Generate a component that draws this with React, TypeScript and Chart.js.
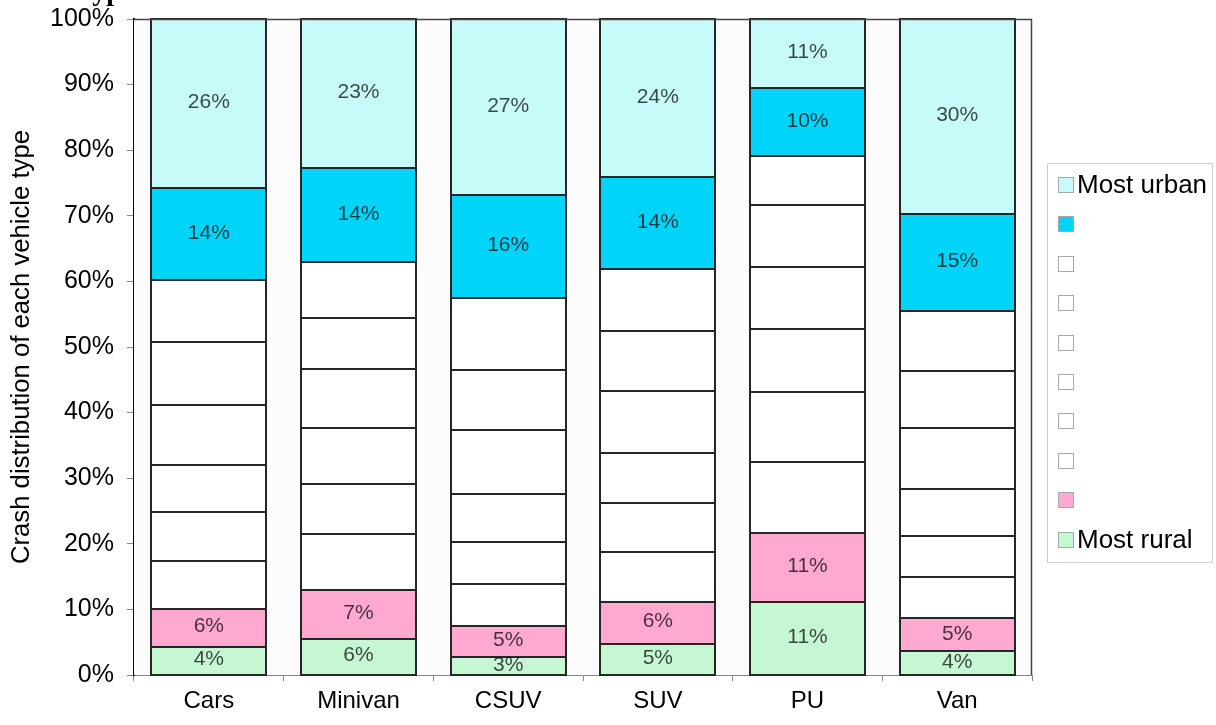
import React, { useEffect, useRef } from 'react';
import { Chart, registerables } from 'chart.js';

Chart.register(...registerables);

const categories = ['Cars', 'Minivan', 'CSUV', 'SUV', 'PU', 'Van'];

// bottom (most rural) to top (most urban), percent of crashes
const mostRural = [4.34, 5.52, 2.74, 4.75, 11.1, 3.59];
const rural2 = [5.78, 7.49, 4.75, 6.45, 10.52, 5.03];
const mid1 = [7.33, 8.41, 6.35, 7.54, 10.91, 6.27];
const mid2 = [7.33, 7.75, 6.45, 7.43, 10.58, 6.34];
const mid3 = [7.28, 8.41, 7.33, 7.64, 9.67, 7.18];
const mid4 = [9.14, 9.14, 9.76, 9.5, 9.47, 9.21];
const mid5 = [9.6, 7.64, 9.08, 9.14, 9.47, 8.76];
const mid6 = [9.4, 8.57, 10.95, 9.5, 7.38, 9.14];
const urban2 = [13.99, 14.41, 15.8, 13.94, 10.38, 14.76];
const mostUrban = [25.81, 22.66, 26.79, 24.11, 10.52, 29.72];

const seriesNames = ['Most rural', '', '', '', '', '', '', '', '', 'Most urban'];
const seriesColors = ['#C6F7D3', '#FFA8D0', '#FFFFFF', '#FFFFFF', '#FFFFFF', '#FFFFFF', '#FFFFFF', '#FFFFFF', '#00D4F8', '#C6FBF9'];
const labelledSeries = [0, 1, 8, 9];

const yTicks = [0, 10, 20, 30, 40, 50, 60, 70, 80, 90, 100];
const yTitle = 'Crash distribution of each vehicle type';
const topTitleFragment = 'type';

const SANS = '"Liberation Sans", Arial, Helvetica, sans-serif';

const allSeries = [mostRural, rural2, mid1, mid2, mid3, mid4, mid5, mid6, urban2, mostUrban];

const areaPlugin = {
  id: 'areaPlugin',
  beforeDatasetsDraw(chart: any) {
    const { ctx, chartArea } = chart;
    ctx.save();
    ctx.fillStyle = '#FCFCFC';
    ctx.fillRect(chartArea.left, chartArea.top, chartArea.right - chartArea.left, chartArea.bottom - chartArea.top);
    ctx.restore();
  },
  afterDatasetsDraw(chart: any) {
    const { ctx, chartArea } = chart;
    ctx.save();
    // crisp outlines of every bar segment
    ctx.strokeStyle = '#262626';
    ctx.lineWidth = 2;
    chart.data.datasets.forEach((_: any, di: number) => {
      const meta = chart.getDatasetMeta(di);
      meta.data.forEach((el: any) => {
        const half = el.width / 2;
        const x0 = Math.round(el.x - half);
        const x1 = Math.round(el.x + half);
        const y0 = Math.round(Math.min(el.y, el.base));
        const y1 = Math.round(Math.max(el.y, el.base));
        ctx.strokeRect(x0, y0, x1 - x0, y1 - y0);
      });
    });
    // plot-area frame (top and right)
    ctx.strokeStyle = '#444';
    ctx.lineWidth = 1.5;
    ctx.beginPath();
    ctx.moveTo(chartArea.left, chartArea.top + 0.5);
    ctx.lineTo(chartArea.right - 0.5, chartArea.top + 0.5);
    ctx.lineTo(chartArea.right - 0.5, chartArea.bottom);
    ctx.stroke();
    ctx.restore();
  },
};

const labelPlugin = {
  id: 'labelPlugin',
  afterDatasetsDraw(chart: any) {
    const { ctx } = chart;
    ctx.save();
    ctx.font = `21px ${SANS}`;
    ctx.textAlign = 'center';
    ctx.textBaseline = 'middle';
    ctx.fillStyle = 'rgba(0,0,0,0.72)';
    labelledSeries.forEach((di) => {
      const meta = chart.getDatasetMeta(di);
      meta.data.forEach((el: any, j: number) => {
        const v = chart.data.datasets[di].data[j] as number;
        const cy = (el.y + el.base) / 2 - 1;
        ctx.fillText(`${Math.round(v)}%`, el.x, cy);
      });
    });
    ctx.restore();
  },
};

const legendPlugin = {
  id: 'customLegend',
  afterDraw(chart: any) {
    const { ctx } = chart;
    ctx.save();
    const bx = 1047, by = 163, bw = 165, bh = 399;
    ctx.fillStyle = '#FFFFFF';
    ctx.fillRect(bx, by, bw, bh);
    ctx.strokeStyle = '#CFCFCF';
    ctx.lineWidth = 1;
    ctx.strokeRect(bx + 0.5, by + 0.5, bw, bh);
    ctx.font = `26px ${SANS}`;
    ctx.textBaseline = 'middle';
    ctx.textAlign = 'left';
    for (let i = 0; i < seriesNames.length; i++) {
      const si = seriesNames.length - 1 - i;
      const cy = Math.round(185 + i * 39.4);
      ctx.fillStyle = seriesColors[si];
      ctx.fillRect(1058, cy - 8, 16, 16);
      ctx.strokeStyle = '#A8A8A8';
      ctx.strokeRect(1058.5, cy - 7.5, 15, 15);
      if (seriesNames[si]) {
        ctx.fillStyle = '#000';
        ctx.fillText(seriesNames[si], 1077, cy + 1);
      }
    }
    // partially visible heading at the very top
    ctx.font = `bold 28px "Liberation Serif", "Times New Roman", serif`;
    ctx.fillStyle = '#000';
    ctx.textBaseline = 'alphabetic';
    ctx.fillText(topTitleFragment, 83, 0);
    ctx.restore();
  },
};

export default function App() {
  const ref = useRef<HTMLCanvasElement>(null);
  useEffect(() => {
    document.body.style.margin = '0';
    const chart = new Chart(ref.current as HTMLCanvasElement, {
      type: 'bar',
      data: {
        labels: categories,
        datasets: allSeries.map((d, i) => ({
          label: seriesNames[i] || `Band ${i + 1}`,
          data: d,
          backgroundColor: seriesColors[i],
          borderWidth: 0,
          barPercentage: 0.77,
          categoryPercentage: 1,
        })),
      },
      options: {
        animation: false,
        responsive: false,
        devicePixelRatio: 1,
        layout: { padding: { top: 19, right: 184, bottom: 0, left: 0 } },
        plugins: {
          legend: { display: false },
          tooltip: { enabled: false },
          title: { display: false },
        },
        scales: {
          x: {
            stacked: true,
            grid: { display: true, drawOnChartArea: false, offset: true, tickLength: 6, color: '#888' },
            border: { display: true, color: '#888', width: 1 },
            ticks: { color: '#000', font: { family: SANS, size: 24 }, padding: 6 },
            afterFit: (scale: any) => {
              scale.height = 50;
              scale.paddingLeft = 0;
              scale.paddingRight = 0;
            },
          },
          y: {
            stacked: true,
            min: 0,
            max: 100,
            afterBuildTicks: (scale: any) => { scale.ticks = yTicks.map((v) => ({ value: v })); },
            ticks: {
              color: '#000',
              font: { family: SANS, size: 25 },
              padding: 13,
              callback: (v: any) => `${v}%`,
            },
            grid: { display: true, drawOnChartArea: false, tickLength: 7, color: '#888' },
            border: { display: true, color: '#000', width: 2 },
            title: {
              display: true,
              text: yTitle,
              color: '#000',
              font: { family: SANS, size: 25.7 },
              padding: { top: 6, bottom: 0 },
            },
            afterFit: (scale: any) => {
              scale.width = 134;
              scale.paddingTop = 0;
              scale.paddingBottom = 0;
            },
          },
        },
      },
      plugins: [areaPlugin, labelPlugin, legendPlugin],
    });
    return () => chart.destroy();
  }, []);
  return (
    <div style={{ width: 1216, height: 725, background: '#fff' }}>
      <canvas ref={ref} width={1216} height={725} style={{ display: 'block' }} />
    </div>
  );
}
